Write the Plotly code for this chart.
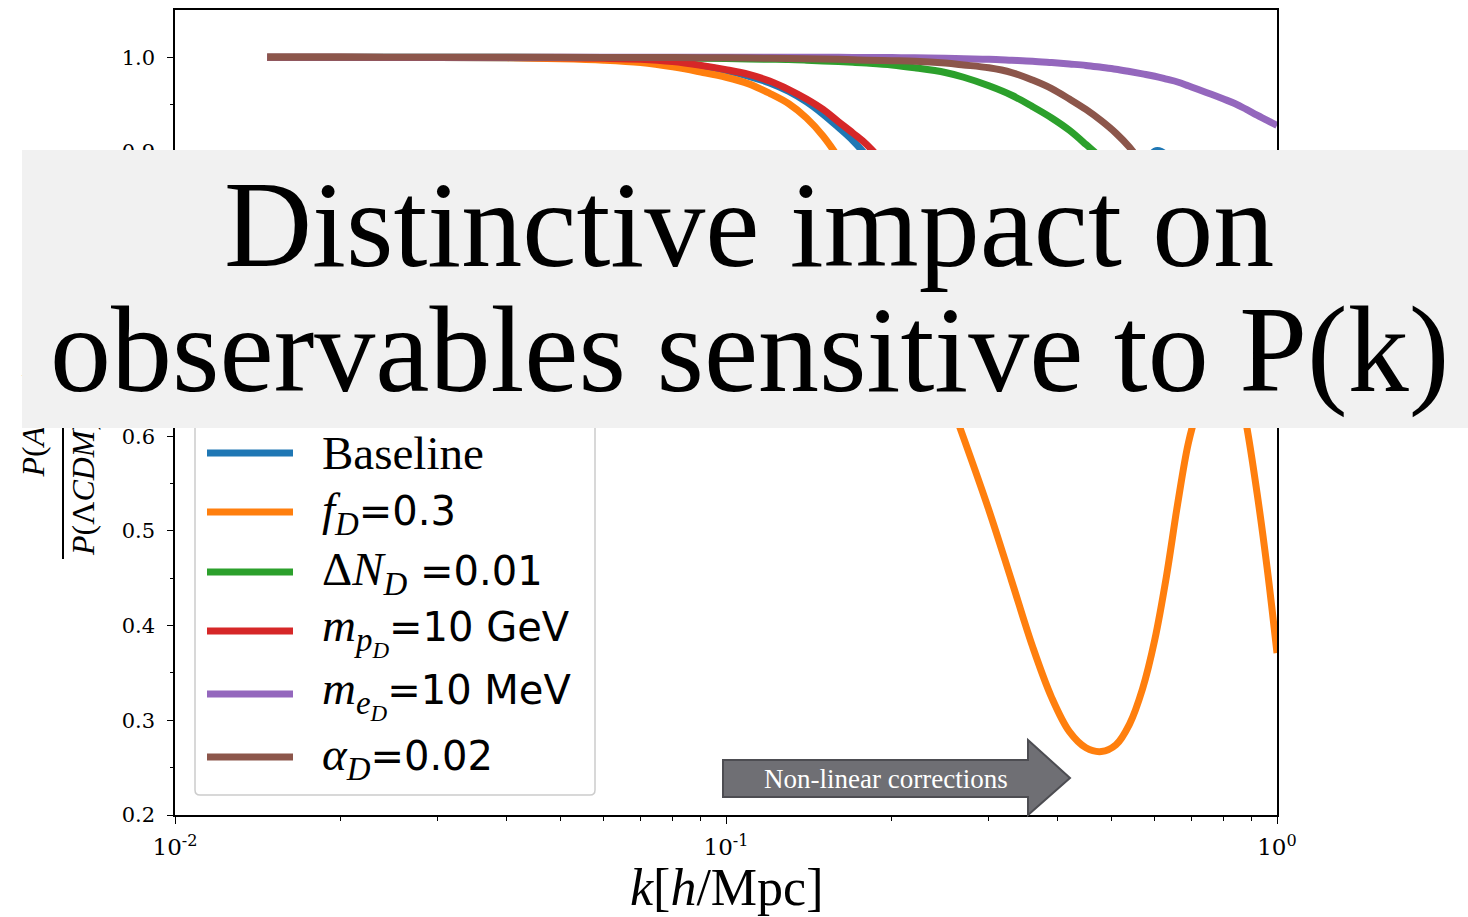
import plotly.graph_objects as go

# ---- data: power-spectrum ratio against wavenumber k [h/Mpc] ----
k = [0.0147, 0.02, 0.03, 0.04, 0.05, 0.06, 0.07, 0.08, 0.09, 0.10, 0.11, 0.12,
     0.13, 0.14, 0.15, 0.16, 0.17, 0.18, 0.20, 0.22, 0.25, 0.27, 0.30, 0.33,
     0.36, 0.39, 0.42, 0.45, 0.48, 0.51, 0.54, 0.57, 0.60, 0.63, 0.66, 0.69,
     0.72, 0.76, 0.80, 0.84, 0.88, 0.92, 0.96, 1.00]

baseline = [1.000, 1.000, 0.9999, 0.9997, 0.9993, 0.9985, 0.997, 0.9945, 0.991, 0.986, 0.980, 0.973,
            0.964, 0.953, 0.940, 0.926, 0.912, 0.896, 0.862, 0.828, 0.778, 0.748, 0.712, 0.688,
            0.678, 0.682, 0.698, 0.724, 0.757, 0.792, 0.832, 0.872, 0.901, 0.897, 0.876, 0.848,
            0.818, 0.785, 0.762, 0.748, 0.742, 0.741, 0.744, 0.750]

f_d = [1.000, 1.000, 0.9998, 0.9995, 0.9985, 0.997, 0.9945, 0.990, 0.9845, 0.979, 0.972, 0.962,
       0.951, 0.936, 0.917, 0.894, 0.868, 0.842, 0.788, 0.733, 0.651, 0.598, 0.522, 0.447,
       0.378, 0.324, 0.288, 0.271, 0.267, 0.274, 0.296, 0.333, 0.385, 0.452, 0.528, 0.592,
       0.632, 0.672, 0.688, 0.668, 0.612, 0.540, 0.460, 0.371]

delta_n = [1.000, 1.000, 1.000, 1.000, 0.9999, 0.9998, 0.9996, 0.9993, 0.999, 0.9987, 0.9983, 0.998,
           0.9977, 0.997, 0.9962, 0.9955, 0.9948, 0.994, 0.992, 0.989, 0.984, 0.979, 0.970, 0.960,
           0.948, 0.936, 0.923, 0.908, 0.893, 0.872, 0.848, 0.822, 0.796, 0.772, 0.752, 0.737,
           0.726, 0.716, 0.710, 0.707, 0.707, 0.709, 0.713, 0.718]

m_pd = [1.000, 1.000, 0.9999, 0.9998, 0.9995, 0.999, 0.998, 0.9955, 0.9915, 0.987, 0.982, 0.975,
        0.966, 0.956, 0.945, 0.932, 0.920, 0.908, 0.878, 0.845, 0.796, 0.766, 0.728, 0.702,
        0.690, 0.692, 0.705, 0.728, 0.758, 0.790, 0.826, 0.860, 0.882, 0.886, 0.872, 0.850,
        0.825, 0.796, 0.775, 0.762, 0.755, 0.752, 0.753, 0.757]

m_ed = [1.000, 1.000, 1.000, 1.000, 1.000, 1.000, 1.000, 1.000, 1.000, 1.000, 1.000, 1.000,
        1.000, 1.000, 1.000, 1.000, 0.9999, 0.9999, 0.9998, 0.9995, 0.999, 0.9985, 0.998, 0.997,
        0.996, 0.9945, 0.993, 0.9915, 0.9895, 0.9875, 0.985, 0.9825, 0.980, 0.977, 0.974, 0.970,
        0.966, 0.961, 0.956, 0.951, 0.945, 0.939, 0.9335, 0.928]

alpha_d = [1.000, 1.000, 1.000, 1.000, 1.000, 0.9999, 0.9999, 0.9998, 0.9997, 0.9995, 0.9993, 0.999,
           0.9988, 0.9985, 0.9983, 0.998, 0.9975, 0.997, 0.9965, 0.996, 0.994, 0.992, 0.989, 0.984,
           0.976, 0.967, 0.956, 0.945, 0.933, 0.920, 0.905, 0.887, 0.866, 0.843, 0.821, 0.801,
           0.784, 0.767, 0.755, 0.746, 0.741, 0.739, 0.739, 0.740]

series_names = ["Baseline", "f_D=0.3", "ΔN_D =0.01", "m_pD=10 GeV", "m_eD=10 MeV", "α_D=0.02"]
series_values = [baseline, f_d, delta_n, m_pd, m_ed, alpha_d]
colors = ["#1f77b4", "#ff7f0e", "#2ca02c", "#d62728", "#9467bd", "#8c564b"]

serif = "Liberation Serif"
num_style = "font-family:'DejaVu Sans';font-size:40px"
legend_labels = [
    "Baseline",
    f"<i>f<sub>D</sub></i><span style=\"{num_style}\">=0.3</span>",
    f"Δ<i>N<sub>D</sub></i><span style=\"{num_style}\"> =0.01</span>",
    f"<i>m<sub>p<sub>D</sub></sub></i><span style=\"{num_style}\">=10 GeV</span>",
    f"<i>m<sub>e<sub>D</sub></sub></i><span style=\"{num_style}\">=10 MeV</span>",
    f"<i>α<sub>D</sub></i><span style=\"{num_style}\">=0.02</span>",
]

y_ticks = [0.2, 0.3, 0.4, 0.5, 0.6, 0.7, 0.8, 0.9, 1.0]
y_ticktext = ["0.2", "0.3", "0.4", "0.5", "0.6", "0.7", "0.8", "0.9", "1.0"]
y_minor = [0.25, 0.35, 0.45, 0.55, 0.65, 0.75, 0.85, 0.95]
x_ticks = [0.01, 0.1, 1.0]
x_ticktext = ["10<sup>-2</sup>", "10<sup>-1</sup>", "10<sup>0</sup>"]
x_minor = [0.02, 0.03, 0.04, 0.05, 0.06, 0.07, 0.08, 0.09,
           0.2, 0.3, 0.4, 0.5, 0.6, 0.7, 0.8, 0.9]

title_lines = ["Distinctive impact on", "observables sensitive to P(k)"]
arrow_text = "Non-linear corrections"

# ---- page geometry (pixels) ----
W, H = 1468, 917
L, R, T, B = 175, 1277, 10, 815


def px(x):
    return (x - L) / (R - L)


def py(y):
    return (B - y) / (B - T)


fig = go.Figure()
for name, vals, col in zip(series_names, series_values, colors):
    fig.add_trace(go.Scatter(x=k, y=vals, mode="lines", name=name,
                             line=dict(color=col, width=7, shape="spline", smoothing=1.0),
                             showlegend=False, hoverinfo="skip"))

shapes = []
annotations = []

# legend frame (top edge runs under the banner)
lx0, lx1, ly0, ly1, rr = 195, 595, 400, 795, 5
frame = (f"M {px(lx0)},{py(ly0)} L {px(lx0)},{py(ly1 - rr)} "
         f"Q {px(lx0)},{py(ly1)} {px(lx0 + rr)},{py(ly1)} "
         f"L {px(lx1 - rr)},{py(ly1)} Q {px(lx1)},{py(ly1)} {px(lx1)},{py(ly1 - rr)} "
         f"L {px(lx1)},{py(ly0)} Z")
shapes.append(dict(type="path", xref="paper", yref="paper", path=frame,
                   line=dict(color="#cccccc", width=1.5), fillcolor="rgba(255,255,255,0.8)",
                   layer="above"))

legend_y = [453, 512, 572, 631, 694, 757]
for lab, col, yy in zip(legend_labels, colors, legend_y):
    shapes.append(dict(type="line", xref="paper", yref="paper",
                       x0=px(207), x1=px(293), y0=py(yy), y1=py(yy),
                       line=dict(color=col, width=7), layer="above"))
    annotations.append(dict(text=lab, xref="paper", yref="paper", x=px(320), y=py(yy),
                            xanchor="left", yanchor="middle", showarrow=False,
                            font=dict(family=serif, size=47, color="black")))

# arrow marking the non-linear regime
ax0, ax1, ah, atip = 723, 1028, 1070, 778
arrow = [(ax0, 760), (ax1, 760), (ax1, 740), (ah, atip), (ax1, 815), (ax1, 797), (ax0, 797)]
path = "M " + " L ".join(f"{px(a)},{py(b)}" for a, b in arrow) + " Z"
shapes.append(dict(type="path", xref="paper", yref="paper", path=path,
                   fillcolor="#6f6f74", line=dict(color="#4d4d52", width=2), layer="above"))
annotations.append(dict(text=arrow_text, xref="paper", yref="paper", x=px(886), y=py(779),
                        xanchor="center", yanchor="middle", showarrow=False,
                        font=dict(family=serif, size=27, color="white")))

# axis titles
annotations.append(dict(text="<i>k</i>[<i>h</i>/Mpc]", xref="paper", yref="paper",
                        x=px(727), y=py(887), xanchor="center", yanchor="middle",
                        showarrow=False, font=dict(family=serif, size=52, color="black")))
shapes.append(dict(type="line", xref="paper", yref="paper", x0=px(63), x1=px(63),
                   y0=py(559), y1=py(262), line=dict(color="black", width=2), layer="above"))
annotations.append(dict(text="<i>P</i>(<i>ADM</i>)", xref="paper", yref="paper",
                        x=px(32), y=py(480), xanchor="center", yanchor="bottom",
                        textangle=-90, showarrow=False,
                        font=dict(family=serif, size=32, color="black")))
annotations.append(dict(text="<i>P</i>(Λ<i>CDM</i>)", xref="paper", yref="paper",
                        x=px(83), y=py(558), xanchor="center", yanchor="bottom",
                        textangle=-90, showarrow=False,
                        font=dict(family=serif, size=32, color="black")))

# banner laid over the middle of the figure
annotations.append(dict(text="\u00a0", xref="paper", yref="paper", x=px(22), y=py(150),
                        xanchor="left", yanchor="top", width=1446, height=278,
                        bgcolor="#f1f1f1", borderpad=0, borderwidth=0, showarrow=False,
                        font=dict(size=10)))
for line_text, cy in zip(title_lines, [224, 350]):
    annotations.append(dict(text=line_text, xref="paper", yref="paper", x=px(749), y=py(cy),
                            xanchor="center", yanchor="middle", showarrow=False,
                            font=dict(family=serif, size=122, color="black")))

fig.update_layout(
    width=W, height=H,
    margin=dict(l=L, r=W - R, t=T, b=H - B, autoexpand=False),
    paper_bgcolor="white", plot_bgcolor="white", showlegend=False,
    shapes=shapes, annotations=annotations,
)
fig.update_xaxes(type="log", range=[-2, 0], showline=True, mirror=True, linecolor="black",
                 linewidth=1.5, ticks="outside", ticklen=7, tickwidth=1.3, tickcolor="black",
                 tickvals=x_ticks, ticktext=x_ticktext, ticklabelstandoff=4,
                 tickfont=dict(family="DejaVu Serif", size=23, color="black"),
                 showgrid=False, zeroline=False,
                 minor=dict(ticks="outside", ticklen=4, tickwidth=1, tickcolor="black",
                            tickvals=x_minor, showgrid=False))
fig.update_yaxes(range=[0.2, 1.05], showline=True, mirror=True, linecolor="black",
                 linewidth=1.5, ticks="outside", ticklen=6, tickwidth=1.3, tickcolor="black",
                 tickvals=y_ticks, ticktext=y_ticktext, ticklabelstandoff=8,
                 tickfont=dict(family="DejaVu Serif", size=21, color="black"),
                 showgrid=False, zeroline=False,
                 minor=dict(ticks="outside", ticklen=3.5, tickwidth=1, tickcolor="black",
                            tickvals=y_minor, showgrid=False))

fig.write_html("out.html")
